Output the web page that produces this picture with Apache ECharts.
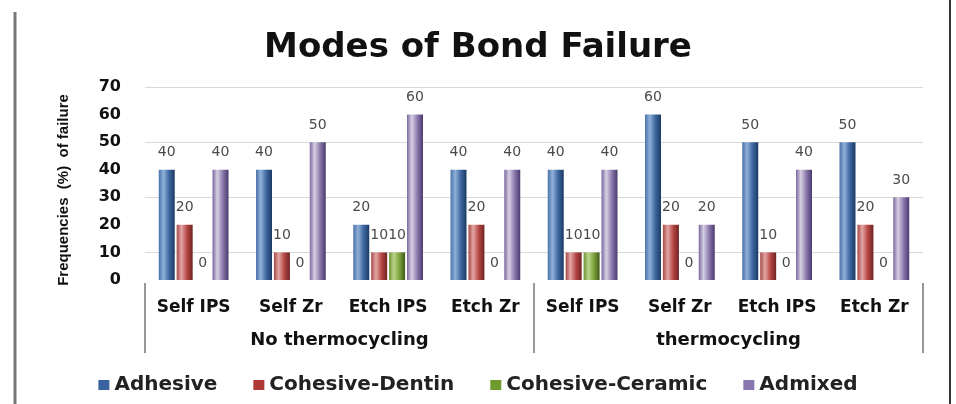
<!DOCTYPE html>
<html>
<head>
<meta charset="utf-8">
<script src="https://cdn.jsdelivr.net/npm/echarts@6/dist/echarts.min.js"></script>
<style>
html,body{margin:0;padding:0;background:#fff;}
#chart{width:956px;height:404px;}
</style>
</head>
<body>
<div id="chart"></div>
<script>
var categories = ['Self IPS', 'Self Zr', 'Etch IPS', 'Etch Zr', 'Self IPS', 'Self Zr', 'Etch IPS', 'Etch Zr'];
var groups = ['No thermocycling', 'thermocycling'];
var adhesive = [40, 40, 20, 40, 40, 60, 50, 50];
var cohesiveDentin = [20, 10, 10, 20, 10, 20, 10, 20];
var cohesiveCeramic = [0, 0, 10, 0, 10, 0, 0, 0];
var admixed = [40, 50, 60, 40, 40, 20, 40, 30];
var yTicks = [0, 10, 20, 30, 40, 50, 60, 70];

//圆柱效果
function cyl(c1, c2, c3, c4){
	return new echarts.graphic.LinearGradient(0, 0, 1, 0, [
		{offset: 0, color: c1},
		{offset: 0.3, color: c2},
		{offset: 0.65, color: c3},
		{offset: 1, color: c4}
	]);
}

var label = {
	show: true,
	position: 'top',
	distance: 10,
	color: '#4a4a4a',
	fontFamily: 'DejaVu Sans',
	fontSize: 14
};

function bar(name, data, color){
	return {
		name: name,
		type: 'bar',
		xAxisIndex: 0,
		barWidth: 16,
		barGap: '12%',
		itemStyle: {color: color},
		label: label,
		data: data
	};
}

var chart = echarts.init(document.getElementById('chart'));
var option = {
	backgroundColor: '#fff',
	animation: false,
	title: {
		text: 'Modes of Bond Failure',
		left: 'center',
		top: 26,
		textStyle: {fontFamily: 'DejaVu Sans', fontWeight: 'bold', fontSize: 34, color: '#111'}
	},
	legend: {
		top: 370,
		left: 'center',
		icon: 'rect',
		itemWidth: 11,
		itemHeight: 10,
		itemGap: 36,
		textStyle: {fontFamily: 'DejaVu Sans', fontWeight: 'bold', fontSize: 20, color: '#222'},
		data: [
			{name: 'Adhesive', itemStyle: {color: '#3b62a0'}},
			{name: 'Cohesive-Dentin', itemStyle: {color: '#b03a38'}},
			{name: 'Cohesive-Ceramic', itemStyle: {color: '#6f9a2e'}},
			{name: 'Admixed', itemStyle: {color: '#8a78b0'}}
		]
	},
	grid: {left: 145, right: 33, top: 87, bottom: 124},
	graphic: [
		{type: 'line', shape: {x1: 15, y1: 12, x2: 15, y2: 404}, style: {stroke: '#777', lineWidth: 3}},
		{type: 'line', shape: {x1: 950, y1: 0, x2: 950, y2: 404}, style: {stroke: '#333', lineWidth: 2}},
		{
			type: 'text',
			rotation: Math.PI / 2,
			x: 64,
			y: 190,
			style: {
				text: 'Frequencies  (%)  of failure',
				fill: '#111',
				font: 'bold 15px "Liberation Sans"',
				align: 'center',
				verticalAlign: 'middle'
			}
		}
	],
	xAxis: [
		{
			type: 'category',
			data: categories,
			position: 'bottom',
			axisLine: {show: false},
			axisTick: {show: false},
			axisLabel: {margin: 19, color: '#111', fontFamily: 'DejaVu Sans', fontWeight: 'bold', fontSize: 17, interval: 0}
		},
		{
			type: 'category',
			data: groups,
			position: 'bottom',
			offset: 3,
			axisLine: {show: false},
			axisTick: {show: true, length: 70, lineStyle: {color: '#999', width: 2}},
			axisLabel: {margin: 48, color: '#111', fontFamily: 'DejaVu Sans', fontWeight: 'bold', fontSize: 18}
		}
	],
	yAxis: {
		type: 'value',
		min: yTicks[0],
		max: yTicks[yTicks.length - 1],
		interval: 10,
		axisLine: {show: false},
		axisTick: {show: false},
		axisLabel: {margin: 24, color: '#111', fontFamily: 'DejaVu Sans', fontWeight: 'bold', fontSize: 16},
		splitLine: {lineStyle: {color: ['transparent', '#d9d9d9'], width: 1}}
	},
	series: [
		bar('Adhesive', adhesive, cyl('#4a72a8', '#8fb0d9', '#3d679f', '#1c3a63')),
		bar('Cohesive-Dentin', cohesiveDentin, cyl('#a84a48', '#e2a6a4', '#b54643', '#6e2322')),
		bar('Cohesive-Ceramic', cohesiveCeramic, cyl('#6f9233', '#b9d58a', '#7ca23c', '#3f5a17')),
		bar('Admixed', admixed, cyl('#7a67a0', '#d6d0e3', '#8a78ac', '#4b3a6d'))
	]
};
chart.setOption(option);
</script>
</body>
</html>
